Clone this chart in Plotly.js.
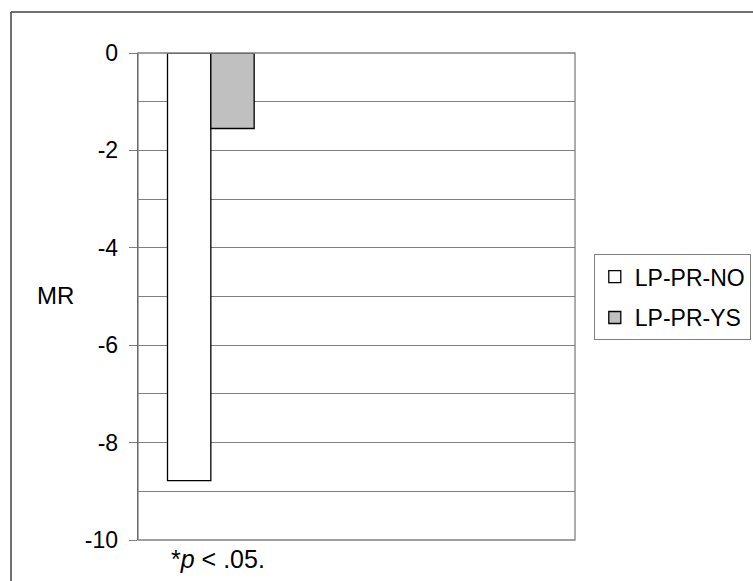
<!DOCTYPE html>
<html>
<head>
<meta charset="utf-8">
<script src="https://cdn.plot.ly/plotly-3.0.1.min.js"></script>
<style>
  html, body { margin: 0; padding: 0; background: #fff; }
  #chart { width: 753px; height: 581px; }
</style>
</head>
<body>
<div id="chart"></div>
<script>
// Data
const categories = ['1'];
const seriesNames = ['LP-PR-NO', 'LP-PR-YS'];
const valuesNO = [-8.78];
const valuesYS = [-1.55];
const tickValues = [0, -2, -4, -6, -8, -10];
const tickLabels = ['0', '-2', '-4', '-6', '-8', '-10'];
const yTitle = 'MR';
const noteText = '*<i>p</i>&nbsp;&lt;&nbsp;.05.';

const FONT = '"Liberation Sans", Arial, sans-serif';

const traces = [
  {
    type: 'bar', name: seriesNames[0], x: categories, y: valuesNO,
    marker: { color: '#ffffff', line: { color: '#000000', width: 1.3 } },
    legendgroup: 'a'
  },
  {
    type: 'bar', name: seriesNames[1], x: categories, y: valuesYS,
    marker: { color: '#c0c0c0', line: { color: '#000000', width: 1.3 } },
    legendgroup: 'b'
  }
];

const layout = {
  width: 753, height: 581,
  margin: { l: 138, r: 178, t: 53, b: 41, autoexpand: false },
  paper_bgcolor: '#ffffff', plot_bgcolor: '#ffffff',
  font: { family: FONT, size: 23, color: '#000' },
  barmode: 'group', bargap: 0.405, bargroupgap: 0,
  showlegend: true,
  legend: {
    x: 1.043, xanchor: 'left', y: 0.587, yanchor: 'top',
    bordercolor: '#808080', borderwidth: 1, bgcolor: '#ffffff',
    font: { family: FONT, size: 23, color: '#000' },
    traceorder: 'grouped', tracegroupgap: 8
  },
  xaxis: {
    type: 'category', range: [-0.5, 2.5],
    showticklabels: false, showgrid: false, zeroline: false, showline: false, ticks: ''
  },
  yaxis: {
    range: [-10, 0], tickvals: tickValues, ticktext: tickLabels,
    showgrid: true, gridcolor: '#808080', gridwidth: 1,
    minor: { dtick: 1, showgrid: true, gridcolor: '#808080', gridwidth: 1, ticks: '' },
    ticks: 'outside', ticklen: 8, tickcolor: '#808080', tickwidth: 1,
    ticklabelstandoff: 6,
    showline: true, linecolor: '#404040', linewidth: 1.3, zeroline: false,
    tickfont: { family: FONT, size: 23, color: '#000' }
  },
  shapes: [
    { type: 'rect', xref: 'paper', yref: 'paper', x0: 0, x1: 1, y0: 0, y1: 1,
      line: { color: '#808080', width: 1.3 }, layer: 'above' },
    { type: 'line', xref: 'paper', yref: 'paper', x0: -0.2906, x1: -0.2906, y0: -0.2, y1: 1.0842,
      line: { color: '#404040', width: 1.5 } },
    { type: 'line', xref: 'paper', yref: 'paper', x0: -0.2906, x1: 1.5, y0: 1.0842, y1: 1.0842,
      line: { color: '#404040', width: 1.5 } }
  ],
  annotations: [
    { text: yTitle, xref: 'paper', yref: 'paper', x: -0.1888, y: 0.503,
      showarrow: false, xanchor: 'center', yanchor: 'middle',
      font: { family: FONT, size: 24, color: '#000' } },
    { text: noteText, xref: 'paper', yref: 'paper', x: 0.182, y: -0.038,
      showarrow: false, xanchor: 'center', yanchor: 'middle',
      font: { family: FONT, size: 25, color: '#000' } }
  ]
};

Plotly.newPlot('chart', traces, layout, { displayModeBar: false, staticPlot: true });
</script>
</body>
</html>
